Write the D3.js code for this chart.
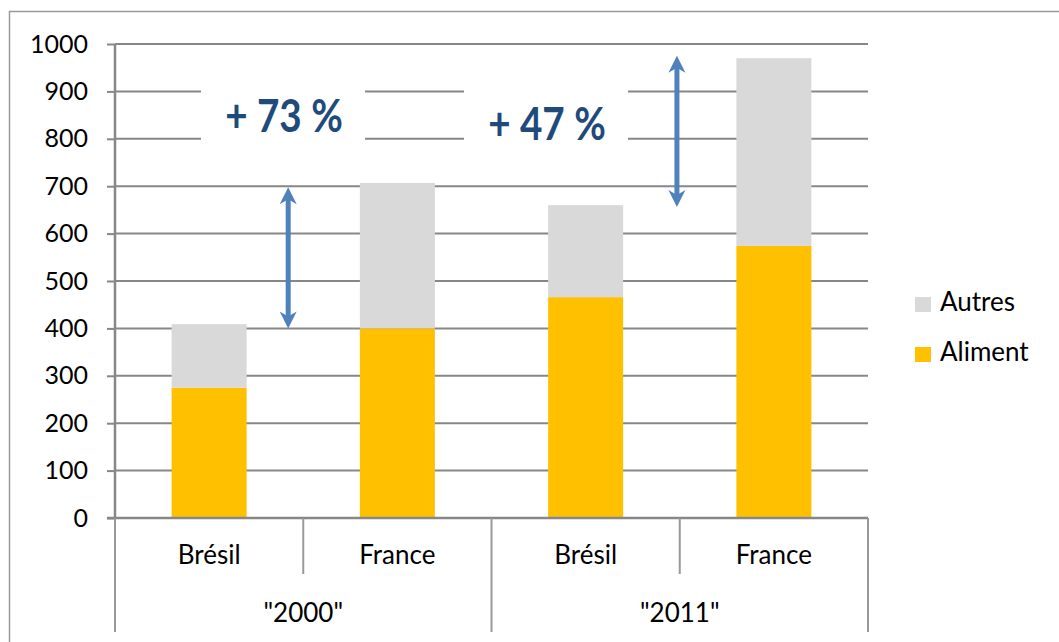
<!DOCTYPE html>
<meta charset="utf-8">
<head>
	<script type="text/javascript" src="https://cdn.jsdelivr.net/npm/d3@7"></script>
	<style>
		body { margin: 0; background: #fff; }
		text { font-family: Lato, "Noto Sans", sans-serif; }
	</style>
</head>
<body>
	<svg id="chart" width="1059" height="642"></svg>
</body>
<script type="text/javascript">
	// data
	var years = ['"2000"', '"2011"'];
	var countries = ['Brésil', 'France'];
	var aliment = [275, 400, 466, 574];
	var autres = [134, 307, 194, 396];
	var yTicks = [0, 100, 200, 300, 400, 500, 600, 700, 800, 900, 1000];
	var seriesNames = ['Autres', 'Aliment'];
	var seriesColors = ['#d9d9d9', '#ffc000'];

	// annotations: label, arrow position (in category units), arrow range (values)
	var notes = ['+ 73 %', '+ 47 %'];
	var arrowPos = [0.92, 2.985];
	var arrowFrom = [400, 656];
	var arrowTo = [698, 975];

	var svg = d3.select('#chart');

	// outer frame
	svg.append('rect')
		.attr('x', 9.5).attr('y', 11.5)
		.attr('width', 1200).attr('height', 800)
		.attr('fill', 'none').attr('stroke', '#9a9a9a').attr('stroke-width', 1.5);

	var plotLeft = 115, plotRight = 868, plotTop = 44, plotBottom = 518;
	var nCat = aliment.length;

	var y = d3.scaleLinear().domain([0, 1000]).range([plotBottom, plotTop]);
	var x = d3.scaleLinear().domain([0, nCat]).range([plotLeft, plotRight]);
	var barW = 75;

	// gridlines
	svg.append('g').selectAll('line')
		.data(yTicks.filter(function(d){ return d > 0; }))
		.enter().append('line')
		.attr('x1', plotLeft).attr('x2', plotRight)
		.attr('y1', function(d){ return y(d); })
		.attr('y2', function(d){ return y(d); })
		.attr('stroke', '#878787').attr('stroke-width', 2);

	// y axis
	var yAxis = d3.axisLeft(y).tickValues(yTicks).tickFormat(d3.format('d')).tickSize(8).tickPadding(19);
	var gy = svg.append('g').attr('transform', 'translate(' + plotLeft + ',0)').call(yAxis);
	gy.select('.domain').remove();
	gy.selectAll('.tick line').attr('stroke', '#878787').attr('stroke-width', 2);
	gy.selectAll('.tick text').attr('font-size', 25).attr('fill', '#000')
		.attr('font-family', 'Lato, "Noto Sans", sans-serif');
	svg.append('line')
		.attr('x1', plotLeft).attr('x2', plotLeft).attr('y1', plotTop).attr('y2', plotBottom)
		.attr('stroke', '#878787').attr('stroke-width', 2.5);

	// stacked bars
	var stackData = aliment.map(function(a, i){ return { Aliment: a, Autres: autres[i] }; });
	var layers = d3.stack().keys(['Aliment', 'Autres'])(stackData);
	var color = d3.scaleOrdinal().domain(seriesNames).range(seriesColors);

	svg.append('g').selectAll('g')
		.data(layers).enter().append('g')
		.attr('fill', function(d){ return color(d.key); })
		.selectAll('rect')
		.data(function(d){ return d; }).enter().append('rect')
		.attr('x', function(d, i){ return x(i + 0.5) - barW / 2; })
		.attr('width', barW)
		.attr('y', function(d){ return y(d[1]); })
		.attr('height', function(d){ return y(d[0]) - y(d[1]); });

	// category axis
	var cat = svg.append('g');
	cat.append('line')
		.attr('x1', plotLeft - 8).attr('x2', plotRight).attr('y1', plotBottom).attr('y2', plotBottom)
		.attr('stroke', '#878787').attr('stroke-width', 2.5);
	d3.range(nCat + 1).forEach(function(k){
		var full = (k % 2 === 0);
		cat.append('line')
			.attr('x1', x(k)).attr('x2', x(k))
			.attr('y1', plotBottom).attr('y2', full ? 632 : 574)
			.attr('stroke', '#999').attr('stroke-width', 2);
	});
	cat.selectAll('text.country')
		.data(aliment).enter().append('text')
		.attr('class', 'country')
		.attr('x', function(d, i){ return x(i + 0.5); })
		.attr('y', 564)
		.attr('text-anchor', 'middle').attr('font-size', 26).attr('fill', '#000')
		.text(function(d, i){ return countries[i % countries.length]; });
	cat.selectAll('text.year')
		.data(years).enter().append('text')
		.attr('class', 'year')
		.attr('x', function(d, i){ return x(i * 2 + 1); })
		.attr('y', 622)
		.attr('text-anchor', 'middle').attr('font-size', 26).attr('fill', '#000')
		.text(function(d){ return d; });

	// annotation boxes + labels (narrow bold look via horizontal squeeze)
	var noteBox = [[201, 365], [464, 628]];
	var noteBase = [132, 140];
	notes.forEach(function(t, i){
		svg.append('rect')
			.attr('x', noteBox[i][0]).attr('y', 62)
			.attr('width', noteBox[i][1] - noteBox[i][0]).attr('height', 103)
			.attr('fill', '#fff');
		var cx = (noteBox[i][0] + noteBox[i][1]) / 2 + 1;
		svg.append('text')
			.attr('transform', 'translate(' + cx + ',' + noteBase[i] + ') scale(0.84,1)')
			.attr('text-anchor', 'middle')
			.attr('font-family', '"Liberation Sans", Arial, sans-serif')
			.attr('font-weight', 'bold').attr('font-size', 46)
			.attr('fill', '#1f4a7c')
			.text(t);
	});

	// double arrows
	var arrowColor = '#4f81bd';
	function head(cx, cy, dir){
		// dir = -1 pointing up, 1 pointing down
		var L = 17, W = 8.5, notch = 5;
		return 'M' + cx + ',' + cy +
			'L' + (cx - W) + ',' + (cy - dir * L) +
			'L' + cx + ',' + (cy - dir * (L - notch)) +
			'L' + (cx + W) + ',' + (cy - dir * L) + 'Z';
	}
	arrowPos.forEach(function(p, i){
		var cx = x(p);
		var yTop = y(arrowTo[i]), yBot = y(arrowFrom[i]);
		svg.append('line')
			.attr('x1', cx).attr('x2', cx)
			.attr('y1', yTop + 8).attr('y2', yBot - 8)
			.attr('stroke', arrowColor).attr('stroke-width', 5);
		svg.append('path').attr('d', head(cx, yTop, -1)).attr('fill', arrowColor);
		svg.append('path').attr('d', head(cx, yBot, 1)).attr('fill', arrowColor);
	});

	// legend
	var legendY = [297, 347];
	var leg = svg.append('g');
	seriesNames.forEach(function(n, i){
		leg.append('rect')
			.attr('x', 915).attr('y', legendY[i])
			.attr('width', 16).attr('height', 15)
			.attr('fill', color(n));
		leg.append('text')
			.attr('x', 940).attr('y', legendY[i] + 14)
			.attr('font-size', 26).attr('fill', '#000')
			.text(n);
	});
</script>
